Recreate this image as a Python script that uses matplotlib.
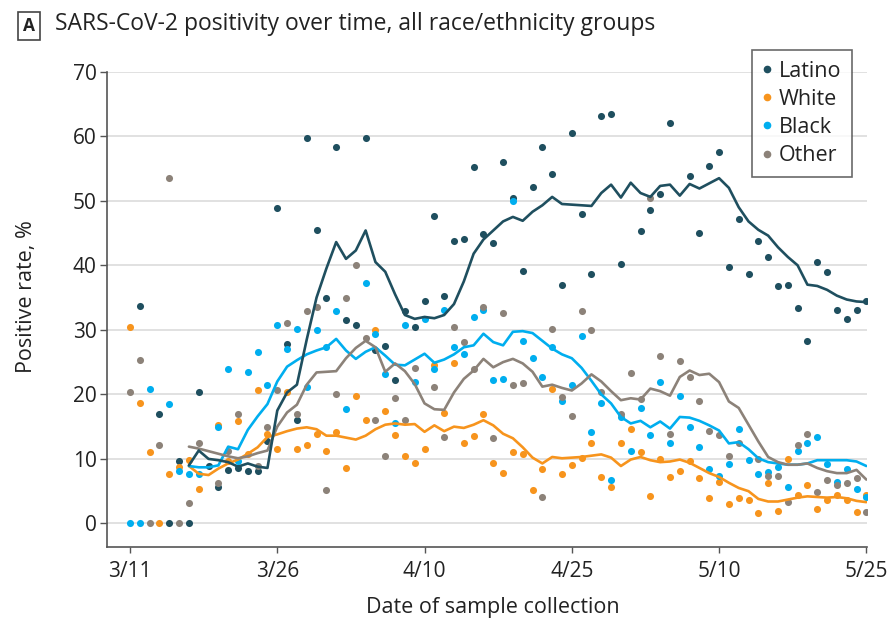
import numpy as np
import matplotlib
matplotlib.use("Agg")
import matplotlib.pyplot as plt
from matplotlib.lines import Line2D

plt.rcParams['font.family'] = ['Open Sans', 'DejaVu Sans']

nan = np.nan
days = np.arange(0, 76)  # days since 3/11
tick_days = [0, 15, 30, 45, 60, 75]
tick_labels = ["3/11", "3/26", "4/10", "4/25", "5/10", "5/25"]

latino_pts = [nan, 33.7, nan, 16.9, 0, 9.7, 0, 20.3, 8.9, 5.6,
              8.3, 8.6, 8.1, 8.1, 12.8, 48.9, 27.8, 16.1, 59.7, 45.4,
              34.9, 58.3, 31.6, 30.7, 59.7, 26.8, 27.5, 22.2, 32.9, 30.4,
              34.5, 47.7, 35.2, 43.7, 44.0, 55.2, 44.8, 43.5, 56.0, 50.5,
              39.1, 52.2, 58.3, 54.1, 37.0, 60.5, 48.0, 38.7, 63.1, 63.4,
              40.2, nan, 45.3, 48.5, 51.1, 62.1, nan, 53.8, 45.0, 55.4,
              57.5, 39.7, 47.1, 38.6, 43.7, 41.3, 36.8, 37.0, 33.4, 28.3,
              40.5, 38.9, 33.1, 31.7, 33.1, 34.5]
white_pts = [30.4, 18.7, 11.0, 0, 7.6, 8.8, 9.9, 5.4, nan, 15.3,
             9.6, 15.8, 10.8, 20.7, 13.9, 11.5, 20.4, 11.5, 12.1, 13.9,
             11.2, 14.2, 8.6, 19.8, 16.0, 29.9, 17.4, 13.7, 10.5, 9.4,
             11.5, 24.6, 17.1, 24.8, 12.4, 13.6, 16.9, 9.4, 7.8, 11.0,
             10.7, 5.2, 8.4, 20.9, 7.6, 9.1, 10.1, 12.5, 7.2, 5.7,
             12.4, 14.7, 11.0, 4.3, 10.0, 7.2, 8.1, 9.7, 7.0, 4.0,
             6.5, 3.0, 3.9, 3.6, 1.6, 6.2, 2.0, 10.0, 4.4, 5.9,
             2.2, 3.6, 4.4, 3.6, 1.7, 4.4]
black_pts = [0, 0, 20.9, nan, 18.5, 8.1, 7.6, 7.6, nan, 15.0,
             23.9, 9.6, 23.5, 26.5, 21.4, 30.7, 27.0, 30.2, 21.1, 29.9,
             27.3, 32.9, 17.7, nan, 37.3, 29.4, 23.1, 15.5, 30.7, 21.9,
             31.7, 24.0, 33.0, 27.4, 26.2, 32.0, 33.0, 22.2, 22.4, 49.9,
             28.3, 25.7, 22.7, 27.4, 18.9, 21.4, 29.0, 14.2, 18.7, 6.7,
             16.5, 11.2, 17.9, 13.7, 21.9, 12.5, 19.8, 15.0, 11.8, 8.4,
             7.3, 9.2, 14.7, 9.9, 7.6, 7.9, 8.7, 5.7, 11.2, 12.5,
             13.4, 9.2, 6.5, 8.5, 5.4, 4.1]
other_pts = [20.3, 25.4, 0, 12.1, 53.6, 0, 3.2, 12.4, nan, 6.3,
             11.3, 16.9, nan, 8.9, 15.0, 20.7, 31.1, 16.9, 32.9, 33.6,
             5.2, 20.0, 34.9, 40.0, 28.8, 16.1, 10.5, 19.5, 16.1, 24.1,
             nan, 21.1, 13.4, 30.4, 28.1, 24.0, 33.6, 13.2, 32.6, 21.4,
             21.7, nan, 4.1, 30.2, 19.6, 16.7, 32.9, 29.9, 20.4, nan,
             16.9, 23.3, 19.3, 50.4, 25.9, 13.9, 25.1, 22.7, 19.0, 14.4,
             13.7, 10.5, 12.4, nan, 10.0, 7.3, 7.3, 3.3, 12.1, 13.9,
             4.9, 6.7, 5.9, 6.2, 7.0, 1.7]

# smoothed trend lines, days 6..75
line_days = np.arange(6, 76)
latino_line = [9.0, 11.3, 10.0, 9.8, 9.5, 8.8, 9.3, 8.8, 8.6, 17.5,
               20.3, 21.5, 28.5, 35.0, 39.5, 43.6, 41.0, 42.3, 45.4, 40.5,
               39.0, 35.5, 32.3, 31.7, 32.0, 31.8, 32.3, 34.0, 37.5, 41.8,
               44.0, 45.4, 46.8, 47.5, 46.9, 48.3, 49.3, 50.6, 49.5, 49.4,
               49.3, 49.2, 51.2, 52.5, 50.5, 52.8, 51.2, 50.6, 52.3, 52.5,
               50.8, 52.6, 51.9, 52.7, 53.5, 52.0, 49.0, 46.8, 45.5, 44.6,
               42.8, 41.3, 40.0, 37.0, 36.8, 36.2, 35.3, 34.7, 34.4, 34.3]
white_line = [8.9, 7.7, 7.5, 8.5, 9.3, 9.9, 10.8, 11.8, 13.4, 13.8,
              14.3, 14.7, 14.9, 14.6, 13.6, 13.6, 13.3, 13.0, 13.6, 14.6,
              15.3, 15.5, 15.3, 15.4, 14.2, 15.2, 14.3, 15.0, 14.8, 15.3,
              16.0, 15.2, 13.9, 13.2, 11.8, 10.2, 9.3, 10.3, 10.1, 10.2,
              10.3, 10.5, 10.7, 10.2, 8.9, 9.9, 10.3, 9.8, 9.5, 9.6,
              9.9, 9.4, 8.6, 7.8, 7.2, 6.3, 5.5, 5.0, 3.8, 3.4,
              3.4, 3.7, 4.0, 4.2, 4.1, 4.0, 4.1, 3.9, 3.5, 3.3]
black_line = [8.9, 8.7, 8.7, 9.0, 11.9, 11.5, 14.5, 16.6, 18.5, 22.0,
              24.3, 25.3, 26.2, 26.8, 27.3, 28.6, 26.8, 25.5, 26.6, 27.3,
              26.0, 24.6, 24.5, 25.4, 26.3, 24.9, 25.4, 26.2, 27.3, 27.6,
              29.4, 28.1, 27.6, 29.7, 29.8, 29.5, 28.3, 27.1, 26.2, 25.6,
              24.1, 22.1, 20.0, 18.6, 16.5, 15.5, 15.9, 14.9, 15.8, 14.7,
              16.5, 16.4, 15.9, 15.2, 14.4, 12.4, 12.6, 11.5, 10.1, 9.5,
              9.3, 9.1, 9.1, 9.3, 9.8, 9.8, 9.8, 9.8, 9.6, 8.9]
other_line = [11.9, 11.6, 11.2, 10.8, 10.4, 10.1, 10.4, 10.9, 11.3, 15.0,
              17.2, 18.4, 21.5, 23.4, 23.5, 23.6, 25.6, 27.2, 28.3, 27.3,
              23.5, 24.8, 23.6, 21.6, 18.6, 17.7, 17.6, 20.3, 22.4, 23.7,
              25.5, 24.2, 25.0, 25.5, 24.8, 23.5, 21.2, 21.5, 21.0, 20.6,
              21.7, 23.1, 22.0, 20.5, 19.1, 19.4, 19.2, 20.9, 20.5, 19.8,
              22.7, 23.7, 23.0, 23.2, 21.9, 18.9, 17.9, 15.3, 12.7, 10.3,
              9.5, 9.1, 9.1, 9.3, 8.6, 8.1, 7.8, 7.8, 8.3, 6.8]

groups = ["Latino", "White", "Black", "Other"]
colors = {"Latino": "#1f4f5f", "White": "#f7941d", "Black": "#00aeef", "Other": "#8c8279"}
pts = {"Latino": latino_pts, "White": white_pts, "Black": black_pts, "Other": other_pts}
lines = {"Latino": latino_line, "White": white_line, "Black": black_line, "Other": other_line}

fig = plt.figure(figsize=(8.92, 6.23), dpi=100)
ax = fig.add_axes([0.1200, 0.1225, 0.8520, 0.7624])

for g in groups:
    ax.scatter(days, pts[g], s=26, color=colors[g], linewidths=0, zorder=3)
for g in ["White", "Black", "Other", "Latino"]:
    ax.plot(line_days, lines[g], color=colors[g], lw=1.9, zorder=4,
            solid_joinstyle='round', solid_capstyle='round')

ax.set_xlim(-2.34, 75.07)
ax.set_ylim(-3.6, 70)
ax.set_yticks(np.arange(0, 71, 10))
ax.set_xticks(tick_days)
ax.set_xticklabels(tick_labels)
ax.grid(axis='y', color='#dedede', lw=1.3, zorder=0)
ax.set_axisbelow(True)
for s in ['top', 'right']:
    ax.spines[s].set_visible(False)
for s in ['left', 'bottom']:
    ax.spines[s].set_color('#555555')
    ax.spines[s].set_linewidth(1.2)
ax.tick_params(axis='y', length=5, width=1.0, color='#555555', labelsize=15, pad=2.5, labelcolor='#222222')
ax.tick_params(axis='x', length=4.5, width=1.0, color='#555555', labelsize=15, pad=6, labelcolor='#222222')

fig.text(27 / 892, 1 - 297 / 623, "Positive rate, %", rotation=90, ha='center', va='center',
         fontsize=15.5, color='#222222')
fig.text(493 / 892, 1 - 607 / 623, "Date of sample collection", ha='center', va='center',
         fontsize=15.5, color='#222222')

# panel title
fig.text(29 / 892, 1 - 26 / 623, "A", ha='center', va='center', fontsize=12.5, fontweight='bold',
         color='#222222',
         bbox=dict(boxstyle='square,pad=0.3', fc='white', ec='#444444', lw=1.2))
fig.text(55 / 892, 1 - 24 / 623, "SARS-CoV-2 positivity over time, all race/ethnicity groups",
         ha='left', va='center', fontsize=16.5, color='#222222')

handles = [Line2D([0], [0], marker='o', ls='none', color=colors[g], markersize=4.5) for g in groups]
leg = fig.legend(handles, groups, loc='upper left', bbox_to_anchor=(752 / 892, 1 - 50 / 623),
                 bbox_transform=fig.transFigure, fontsize=15.5, frameon=True, fancybox=False,
                 handlelength=0.4, handletextpad=0.35, labelspacing=0.33, borderpad=0.5,
                 borderaxespad=0)
leg.get_frame().set_edgecolor('#444444')
leg.get_frame().set_linewidth(1.2)
for t in leg.get_texts():
    t.set_color('#222222')

fig.savefig("out.png", dpi=100)
